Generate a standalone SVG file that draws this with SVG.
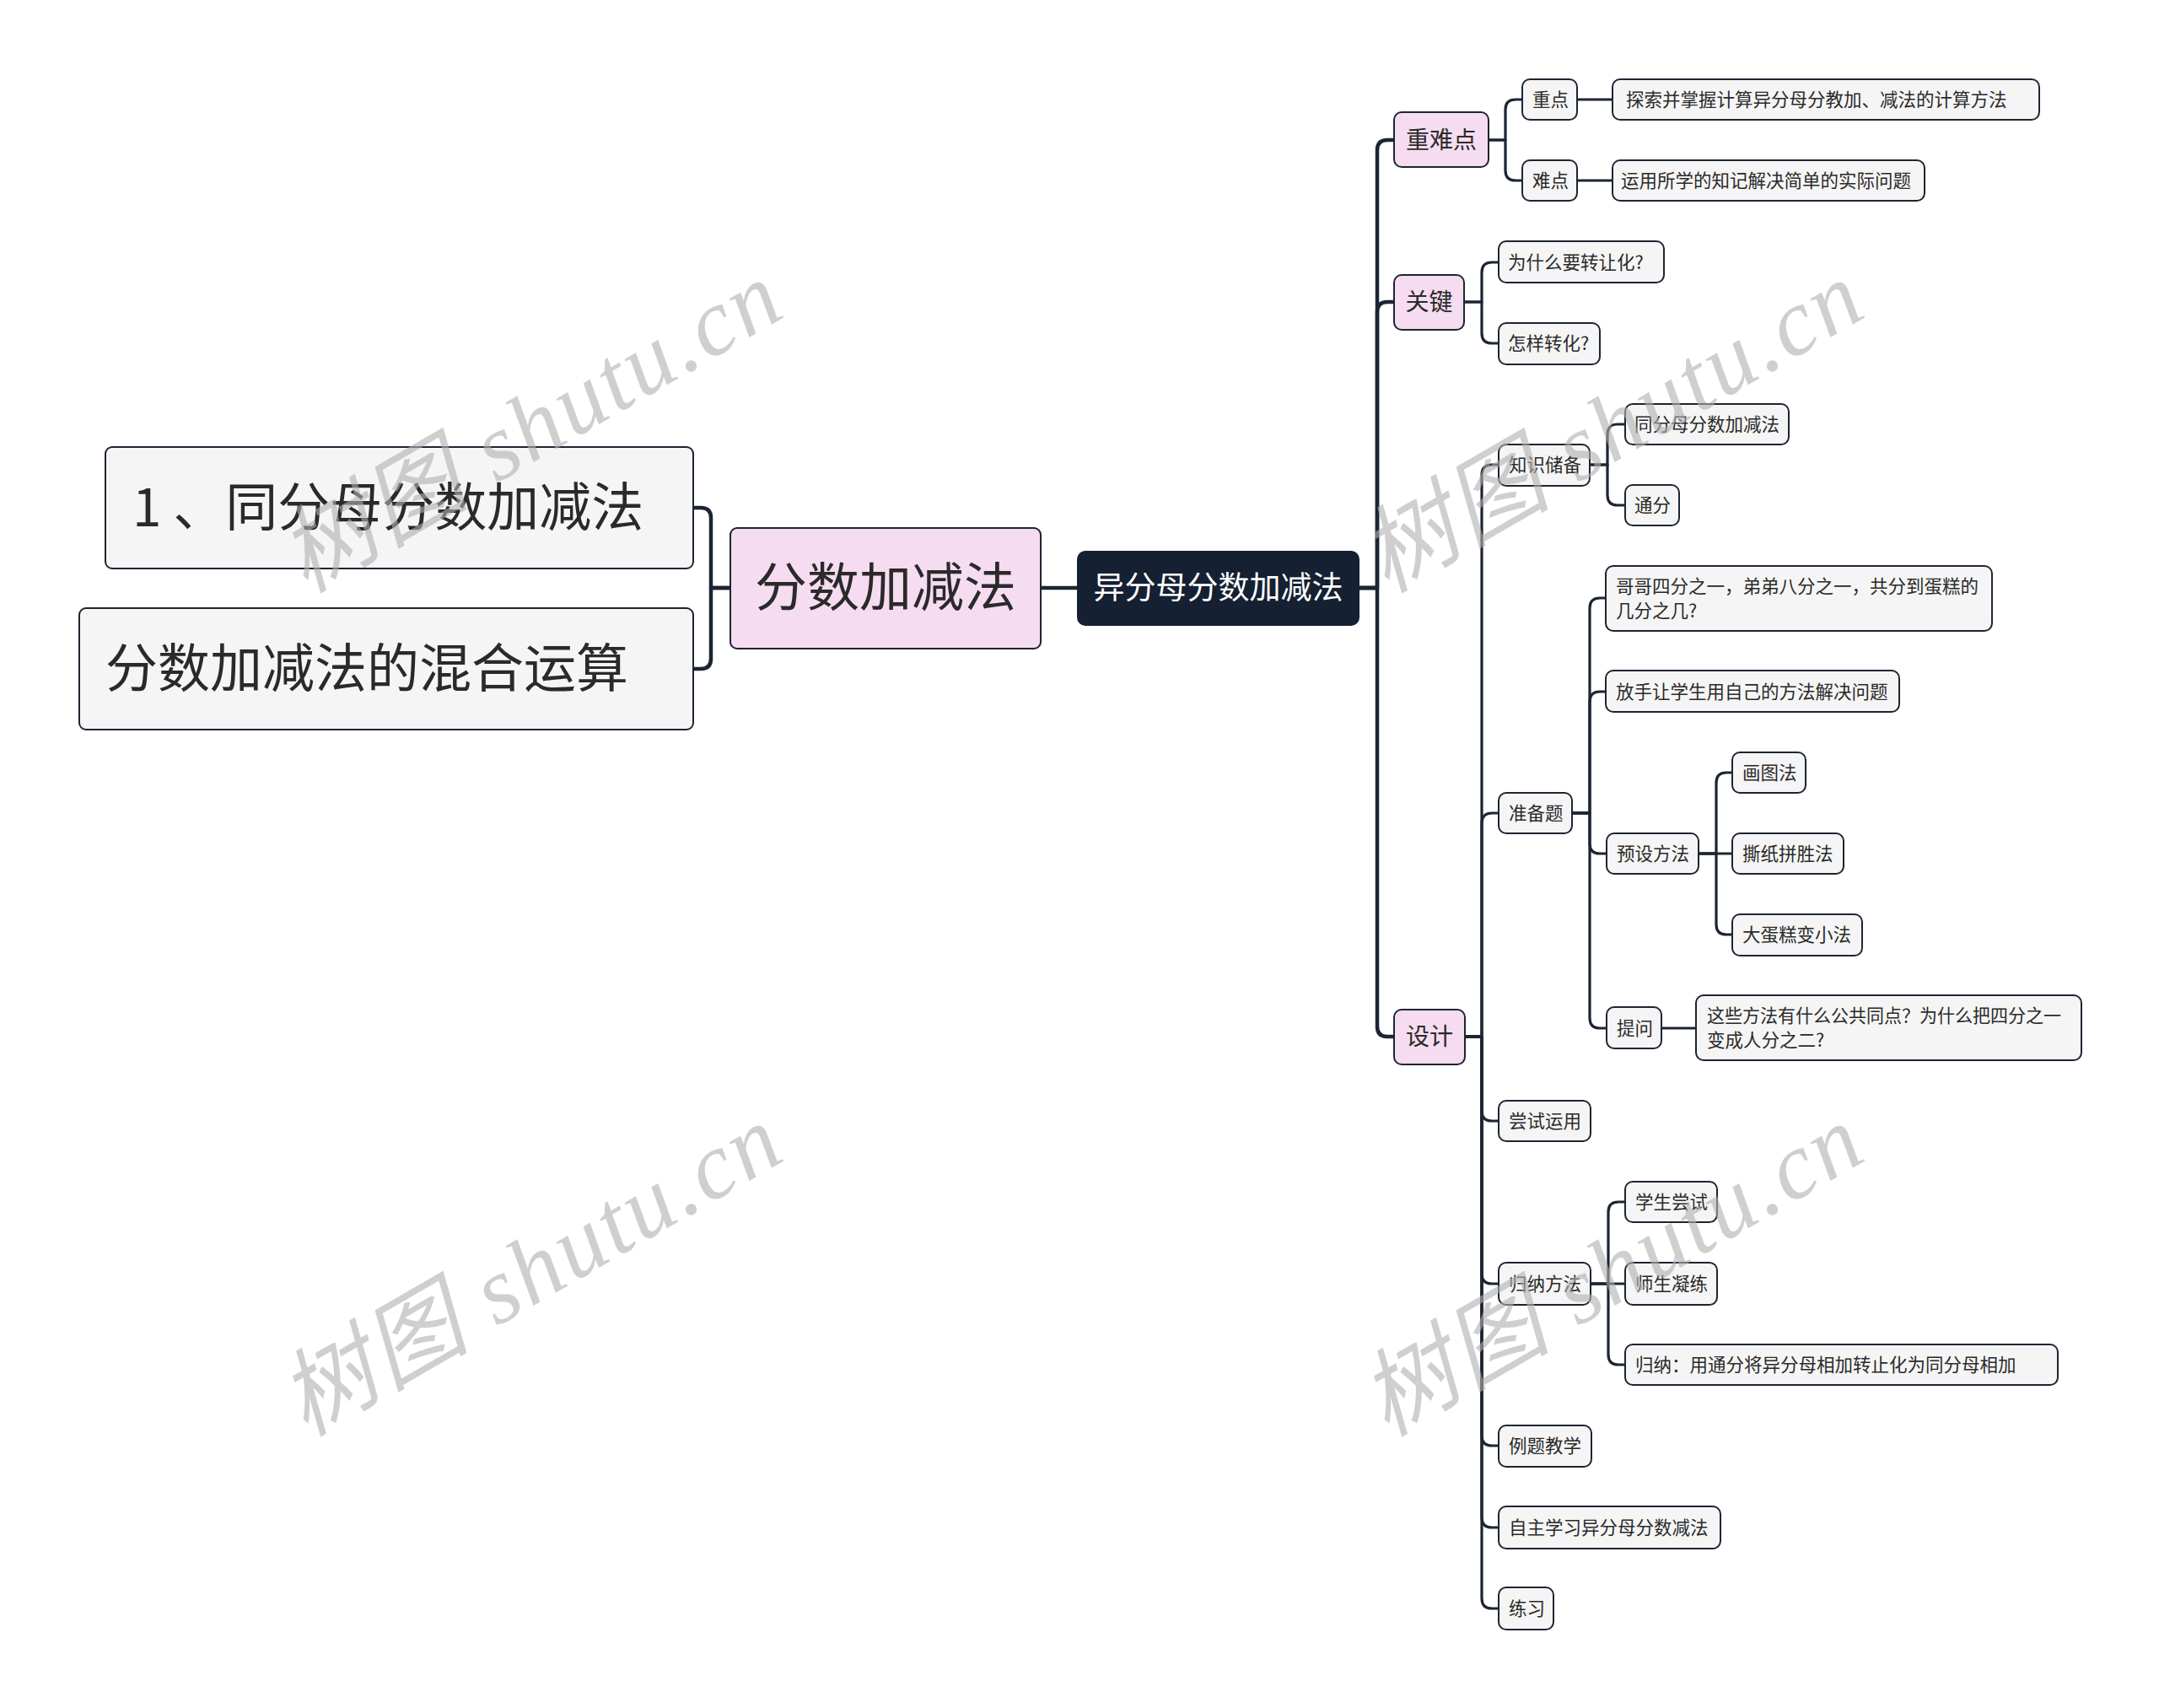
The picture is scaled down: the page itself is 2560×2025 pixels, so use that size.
<svg xmlns="http://www.w3.org/2000/svg" width="2560" height="2025" viewBox="0 0 2560 2025">
<style>
  .bg{fill:#ffffff}
  .leaf{fill:#f5f5f5;stroke:#1c2533;stroke-width:2}
  .pink{fill:#f6dcf0;stroke:#1c2533;stroke-width:2}
  .dark{fill:#152032;stroke:#152032;stroke-width:2}
  .t{font-family:"Noto Sans CJK SC","Noto Sans",sans-serif;fill:#2a2a2a}
  .t22{font-size:21.5px}
  .t28{font-size:28px}
  .t37{font-size:37px;fill:#ffffff}
  .t62{font-size:62px}
  .c{text-anchor:middle}
  .conn path{fill:none;stroke:#1c2533;stroke-linecap:round;stroke-linejoin:round}
  .main{stroke-width:4.5}
  .sub{stroke-width:3.2}
  .wm{font-family:"Liberation Serif","Noto Sans CJK SC",serif;font-size:112px;font-style:italic;fill:#b0b0b0;opacity:0.6}
</style>
<rect class="bg" x="0" y="0" width="2560" height="2025"/>

<g id="connectors" class="conn">
  <path class="main" d="M1233,697 H1278"/>
  <path class="main" d="M866,697 H843 V614 Q843,602 831,602 H822"/>
  <path class="main" d="M866,697 H843 V781 Q843,793 831,793 H822"/>
  <path class="main" d="M1611,697 H1633 V178 Q1633,166 1645,166 H1653"/>
  <path class="main" d="M1611,697 H1633 V370 Q1633,358 1645,358 H1653"/>
  <path class="main" d="M1611,697 H1633 V1217 Q1633,1229 1645,1229 H1653"/>

  <path class="sub" d="M1765,166 H1785 V130 Q1785,118 1797,118 H1805"/>
  <path class="sub" d="M1765,166 H1785 V202 Q1785,214 1797,214 H1805"/>
  <path class="sub" d="M1870,118 H1912"/>
  <path class="sub" d="M1870,214 H1912"/>

  <path class="sub" d="M1736,358 H1757 V323 Q1757,311 1769,311 H1777"/>
  <path class="sub" d="M1736,358 H1757 V395 Q1757,407 1769,407 H1777"/>

  <path class="sub" d="M1737,1229 H1757 V563 Q1757,551 1769,551 H1777"/>
  <path class="sub" d="M1737,1229 H1757 V976 Q1757,964 1769,964 H1777"/>
  <path class="sub" d="M1737,1229 H1757 V1317 Q1757,1329 1769,1329 H1777"/>
  <path class="sub" d="M1737,1229 H1757 V1510 Q1757,1522 1769,1522 H1777"/>
  <path class="sub" d="M1737,1229 H1757 V1702 Q1757,1714 1769,1714 H1777"/>
  <path class="sub" d="M1737,1229 H1757 V1799 Q1757,1811 1769,1811 H1777"/>
  <path class="sub" d="M1737,1229 H1757 V1895 Q1757,1907 1769,1907 H1777"/>

  <path class="sub" d="M1885,551 H1906 V515 Q1906,503 1918,503 H1927"/>
  <path class="sub" d="M1885,551 H1906 V587 Q1906,599 1918,599 H1927"/>

  <path class="sub" d="M1864,964 H1885 V721 Q1885,709 1897,709 H1904"/>
  <path class="sub" d="M1864,964 H1885 V832 Q1885,820 1897,820 H1904"/>
  <path class="sub" d="M1864,964 H1885 V1000 Q1885,1012 1897,1012 H1905"/>
  <path class="sub" d="M1864,964 H1885 V1207 Q1885,1219 1897,1219 H1905"/>

  <path class="sub" d="M2014,1012 H2035 V928 Q2035,916 2047,916 H2054"/>
  <path class="sub" d="M2014,1012 H2054"/>
  <path class="sub" d="M2014,1012 H2035 V1096 Q2035,1108 2047,1108 H2054"/>

  <path class="sub" d="M1970,1219 H2011"/>

  <path class="sub" d="M1886,1522 H1907 V1437 Q1907,1425 1919,1425 H1927"/>
  <path class="sub" d="M1886,1522 H1927"/>
  <path class="sub" d="M1886,1522 H1907 V1606 Q1907,1618 1919,1618 H1927"/>
</g>

<g id="n-left1"><rect class="leaf" x="125" y="530" width="697" height="144" rx="8"/><text class="t t62" x="157" y="624">1 、同分母分数加减法</text></g>
<g id="n-left2"><rect class="leaf" x="94" y="721" width="728" height="144" rx="8"/><text class="t t62" x="125" y="815">分数加减法的混合运算</text></g>
<g id="n-center"><rect class="pink" x="866" y="626" width="368" height="143" rx="8"/><text class="t t62 c" x="1050" y="719">分数加减法</text></g>
<g id="n-root"><rect class="dark" x="1278" y="654" width="333" height="87" rx="9"/><text class="t t37 c" x="1444.5" y="710">异分母分数加减法</text></g>

<g id="n-zhongnandian"><rect class="pink" x="1653" y="133" width="112" height="65" rx="9"/><text class="t t28 c" x="1709" y="176">重难点</text></g>
<g id="n-guanjian"><rect class="pink" x="1653" y="326" width="83" height="65" rx="9"/><text class="t t28 c" x="1694.5" y="368">关键</text></g>
<g id="n-sheji"><rect class="pink" x="1653" y="1197" width="84" height="65" rx="9"/><text class="t t28 c" x="1695" y="1239">设计</text></g>

<g id="n-zhongdian"><rect class="leaf" x="1805" y="94" width="65" height="48" rx="9"/><text class="t t22" x="1817" y="126">重点</text></g>
<g id="n-tansuo"><rect class="leaf" x="1912" y="94" width="506" height="48" rx="9"/><text class="t t22" x="1928" y="126">探索并掌握计算异分母分教加、减法的计算方法</text></g>
<g id="n-nandian"><rect class="leaf" x="1805" y="190" width="65" height="48" rx="9"/><text class="t t22" x="1817" y="222">难点</text></g>
<g id="n-yunyong"><rect class="leaf" x="1912" y="190" width="370" height="48" rx="9"/><text class="t t22" x="1922" y="222">运用所学的知记解决简单的实际问题</text></g>
<g id="n-weishenme"><rect class="leaf" x="1777" y="286" width="196" height="49" rx="9"/><text class="t t22" x="1788" y="319">为什么要转让化?</text></g>
<g id="n-zenyang"><rect class="leaf" x="1777" y="383" width="120" height="49" rx="9"/><text class="t t22" x="1788" y="415">怎样转化?</text></g>

<g id="n-zhishi"><rect class="leaf" x="1777" y="527" width="108" height="49" rx="9"/><text class="t t22" x="1789" y="559">知识储备</text></g>
<g id="n-tongfenmu"><rect class="leaf" x="1927" y="479" width="194" height="48" rx="9"/><text class="t t22" x="1938" y="511">同分母分数加减法</text></g>
<g id="n-tongfen"><rect class="leaf" x="1927" y="575" width="64" height="48" rx="9"/><text class="t t22" x="1938" y="607">通分</text></g>

<g id="n-zhunbei"><rect class="leaf" x="1777" y="940" width="87" height="48" rx="9"/><text class="t t22" x="1789" y="972">准备题</text></g>
<g id="n-gege"><rect class="leaf" x="1904" y="671" width="458" height="77" rx="9"/><text class="t t22" x="1916" y="703">哥哥四分之一，弟弟八分之一，共分到蛋糕的</text><text class="t t22" x="1916" y="732">几分之几?</text></g>
<g id="n-fangshou"><rect class="leaf" x="1904" y="795" width="348" height="49" rx="9"/><text class="t t22" x="1916" y="828">放手让学生用自己的方法解决问题</text></g>
<g id="n-yushe"><rect class="leaf" x="1905" y="988" width="109" height="48" rx="9"/><text class="t t22" x="1917" y="1020">预设方法</text></g>
<g id="n-huatu"><rect class="leaf" x="2054" y="892" width="87" height="48" rx="9"/><text class="t t22" x="2066" y="924">画图法</text></g>
<g id="n-sizhi"><rect class="leaf" x="2054" y="988" width="132" height="48" rx="9"/><text class="t t22" x="2066" y="1020">撕纸拼胜法</text></g>
<g id="n-dadangao"><rect class="leaf" x="2054" y="1084" width="154" height="49" rx="9"/><text class="t t22" x="2066" y="1116">大蛋糕变小法</text></g>
<g id="n-tiwen"><rect class="leaf" x="1905" y="1194" width="65" height="49" rx="9"/><text class="t t22" x="1917" y="1227">提问</text></g>
<g id="n-zhexie"><rect class="leaf" x="2011" y="1180" width="457" height="77" rx="9"/><text class="t t22" x="2024" y="1212" textLength="420" lengthAdjust="spacingAndGlyphs">这些方法有什么公共同点？为什么把四分之一</text><text class="t t22" x="2024" y="1241">变成人分之二?</text></g>

<g id="n-changshi"><rect class="leaf" x="1777" y="1305" width="109" height="48" rx="9"/><text class="t t22" x="1789" y="1337">尝试运用</text></g>
<g id="n-guina"><rect class="leaf" x="1777" y="1497" width="109" height="50" rx="9"/><text class="t t22" x="1789" y="1530">归纳方法</text></g>
<g id="n-xuesheng"><rect class="leaf" x="1927" y="1401" width="109" height="48" rx="9"/><text class="t t22" x="1939" y="1433">学生尝试</text></g>
<g id="n-shisheng"><rect class="leaf" x="1927" y="1497" width="109" height="50" rx="9"/><text class="t t22" x="1939" y="1530">师生凝练</text></g>
<g id="n-guinatext"><rect class="leaf" x="1927" y="1594" width="513" height="48" rx="9"/><text class="t t22" x="1939" y="1626">归纳：用通分将异分母相加转止化为同分母相加</text></g>
<g id="n-liti"><rect class="leaf" x="1777" y="1690" width="110" height="49" rx="9"/><text class="t t22" x="1789" y="1722">例题教学</text></g>
<g id="n-zizhu"><rect class="leaf" x="1777" y="1786" width="263" height="50" rx="9"/><text class="t t22" x="1789" y="1819">自主学习异分母分数减法</text></g>
<g id="n-lianxi"><rect class="leaf" x="1777" y="1882" width="65" height="50" rx="9"/><text class="t t22" x="1789" y="1915">练习</text></g>

<g id="watermarks">
  <text class="wm" transform="translate(362,704) rotate(-30)" textLength="660" lengthAdjust="spacing">树图 shutu.cn</text>
  <text class="wm" transform="translate(1644,704) rotate(-30)" textLength="660" lengthAdjust="spacing">树图 shutu.cn</text>
  <text class="wm" transform="translate(362,1704) rotate(-30)" textLength="660" lengthAdjust="spacing">树图 shutu.cn</text>
  <text class="wm" transform="translate(1644,1704) rotate(-30)" textLength="660" lengthAdjust="spacing">树图 shutu.cn</text>
</g>
</svg>
